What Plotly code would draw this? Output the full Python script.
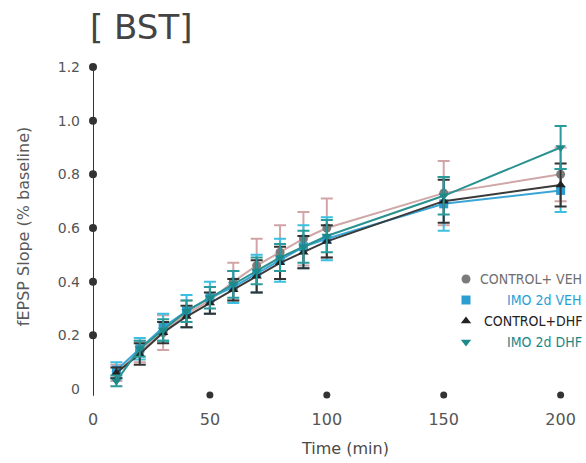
import plotly.graph_objects as go

# Time course (min) and fEPSP slope for each group
time_min = [10, 20, 30, 40, 50, 60, 70, 80, 90, 100, 150, 200]

control_veh = [0.06, 0.14, 0.21, 0.28, 0.33, 0.40, 0.46, 0.51, 0.56, 0.60, 0.73, 0.80]
control_veh_err = [0.03, 0.04, 0.065, 0.05, 0.05, 0.07, 0.10, 0.10, 0.10, 0.11, 0.12, 0.10]

imo_veh = [0.07, 0.15, 0.23, 0.29, 0.34, 0.38, 0.43, 0.48, 0.53, 0.56, 0.69, 0.74]
imo_veh_err = [0.03, 0.04, 0.05, 0.06, 0.06, 0.06, 0.07, 0.08, 0.08, 0.08, 0.10, 0.08]

control_dhf = [0.06, 0.13, 0.21, 0.27, 0.32, 0.37, 0.42, 0.47, 0.51, 0.55, 0.70, 0.76]
control_dhf_err = [0.02, 0.04, 0.04, 0.04, 0.04, 0.04, 0.06, 0.06, 0.06, 0.06, 0.08, 0.08]

imo_dhf = [0.03, 0.15, 0.22, 0.29, 0.34, 0.39, 0.44, 0.49, 0.53, 0.57, 0.72, 0.90]
imo_dhf_err = [0.02, 0.03, 0.04, 0.04, 0.04, 0.05, 0.05, 0.05, 0.06, 0.06, 0.07, 0.08]

group_names = ["CONTROL+ VEH", "IMO 2d VEH", "CONTROL+DHF", "IMO 2d DHF"]

y_ticks = [0, 0.2, 0.4, 0.6, 0.8, 1.0, 1.2]
y_tick_text = ["0", "0.2", "0.4", "0.6", "0.8", "1.0", "1.2"]
x_ticks = [0, 50, 100, 150, 200]
x_tick_text = ["0", "50", "100", "150", "200"]

series = [
    # values, errors, marker symbol, marker colour, line colour, error colour, label colour
    (control_veh, control_veh_err, "circle", "#7b7b7b", "#cfa7a8", "#d2a4a8", "#6e6e6e"),
    (imo_veh, imo_veh_err, "square", "#2c9dd0", "#3aa6d6", "#3cbfe0", "#2a9fd6"),
    (control_dhf, control_dhf_err, "triangle-up", "#222222", "#3a3a3a", "#333333", "#222222"),
    (imo_dhf, imo_dhf_err, "triangle-down", "#1d8a8a", "#2a9191", "#2a9a9a", "#1b8888"),
]

TEXT_FONT = "'DejaVu Sans', Lato, sans-serif"
LEGEND_FONT = "'DejaVu Sans Condensed', 'Liberation Sans Narrow', Roboto, sans-serif"

fig = go.Figure()

# Axis spine and tick dots
fig.add_trace(go.Scatter(
    x=[0, 0], y=[-0.025, 1.2], mode="lines",
    line=dict(color="#333333", width=2), hoverinfo="skip", cliponaxis=False,
))
fig.add_trace(go.Scatter(
    x=[0] * (len(y_ticks) - 1), y=y_ticks[1:], mode="markers",
    marker=dict(color="#333333", size=8), hoverinfo="skip", cliponaxis=False,
))
fig.add_trace(go.Scatter(
    x=x_ticks[1:], y=[-0.022] * (len(x_ticks) - 1), mode="markers",
    marker=dict(color="#333333", size=7), hoverinfo="skip", cliponaxis=False,
))

for (vals, errs, sym, mcol, lcol, ecol, _), name in zip(series, group_names):
    fig.add_trace(go.Scatter(
        x=time_min, y=vals, mode="lines+markers", name=name,
        line=dict(color=lcol, width=2),
        marker=dict(symbol=sym, color=mcol, size=9),
        error_y=dict(type="data", array=errs, color=ecol, thickness=2, width=6),
        cliponaxis=False,
    ))

# Legend: markers on an overlay axis measured in pixels, labels right-aligned
legend_rows = [279, 300, 321, 342]
for (vals, errs, sym, mcol, lcol, ecol, tcol), name, row in zip(series, group_names, legend_rows):
    fig.add_trace(go.Scatter(
        x=[466], y=[row], mode="markers", xaxis="x2", yaxis="y2",
        marker=dict(symbol=sym, color=mcol, size=9), hoverinfo="skip",
    ))
    fig.add_annotation(
        x=584, y=row, xref="x2", yref="y2", text=name, showarrow=False,
        xanchor="right", yanchor="middle",
        font=dict(family=LEGEND_FONT, size=14, color=tcol),
    )

fig.add_annotation(
    x=-0.0102, y=1.077, xref="paper", yref="paper", text="[ BST]", showarrow=False,
    xanchor="left", yanchor="middle",
    font=dict(family=TEXT_FONT, size=34, color="#444444"),
)
fig.add_annotation(
    x=-0.140, y=0.5086, xref="paper", yref="paper", text="fEPSP Slope (% baseline)",
    showarrow=False, textangle=-90, xanchor="center", yanchor="middle",
    font=dict(family=TEXT_FONT, size=16, color="#5a5a5a"),
)
fig.add_annotation(
    x=0.513, y=-0.128, xref="paper", yref="paper", text="Time (min)", showarrow=False,
    xanchor="center", yanchor="middle",
    font=dict(family=TEXT_FONT, size=16, color="#4a4a4a"),
)

fig.update_layout(
    width=586, height=463,
    margin=dict(l=93, r=2, t=54, b=59),
    paper_bgcolor="white", plot_bgcolor="white",
    showlegend=False,
    xaxis=dict(
        range=[0, 210], tickvals=x_ticks, ticktext=x_tick_text,
        showgrid=False, zeroline=False, showline=False, ticks="",
        ticklabelstandoff=4,
        tickfont=dict(family=TEXT_FONT, size=16, color="#555555"),
    ),
    yaxis=dict(
        range=[-0.056, 1.2485], tickvals=y_ticks, ticktext=y_tick_text,
        showgrid=False, zeroline=False, showline=False, ticks="",
        ticklabelstandoff=12,
        tickfont=dict(family=TEXT_FONT, size=14, color="#555555"),
    ),
    xaxis2=dict(range=[93, 584], overlaying="x", visible=False),
    yaxis2=dict(range=[404, 54], overlaying="y", visible=False),
)

fig.write_html("out.html")
